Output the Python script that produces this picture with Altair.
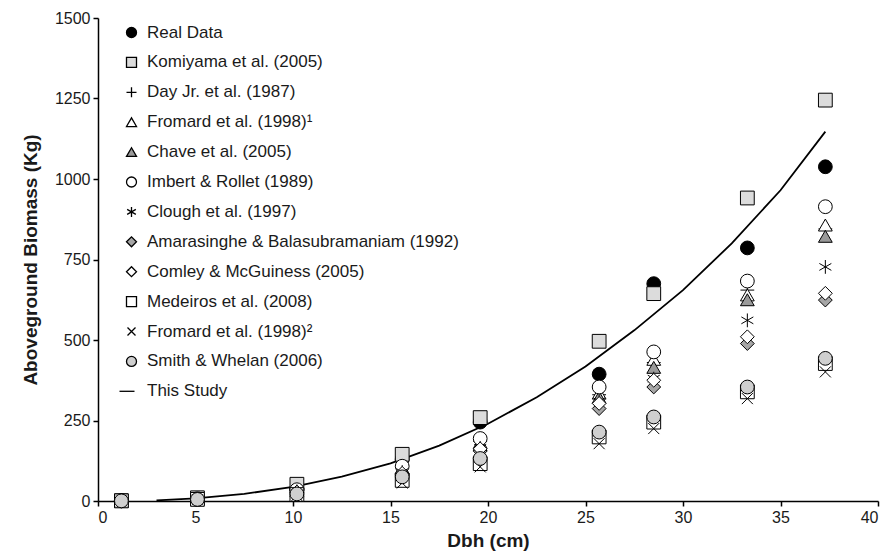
import altair as alt
import pandas as pd

# ---- data ----
dbh = [1.2, 5.1, 10.2, 15.6, 19.6, 25.7, 28.5, 33.3, 37.3]

series_names = [
    "Real Data",
    "Komiyama et al. (2005)",
    "Day Jr. et al. (1987)",
    "Fromard et al. (1998)¹",
    "Chave et al. (2005)",
    "Imbert & Rollet (1989)",
    "Clough et al. (1997)",
    "Amarasinghe & Balasubramaniam (1992)",
    "Comley & McGuiness (2005)",
    "Medeiros et al. (2008)",
    "Fromard et al. (1998)²",
    "Smith & Whelan (2006)",
]
line_name = "This Study"

real_data   = [0.5, 8, 38, 130, 245, 394, 675, 786, 1038]
komiyama    = [1, 10, 52, 145, 259, 496, 644, 941, 1245]
day_jr      = [0.5, 7, 34, 108, 185, 330, 430, 655, 845]
fromard1    = [0.5, 7, 33, 104, 182, 335, 440, 640, 857]
chave       = [0.5, 7, 31, 98, 175, 322, 415, 625, 822]
imbert      = [0.6, 7, 35, 108, 194, 354, 463, 683, 914]
clough      = [0.5, 6, 30, 90, 165, 310, 380, 561, 727]
amarasinghe = [0.5, 6, 27, 82, 155, 287, 354, 489, 624]
comley      = [0.5, 6, 28, 86, 162, 303, 375, 510, 645]
medeiros    = [0.4, 5, 20, 64, 116, 199, 245, 339, 427]
fromard2    = [0.3, 4, 17, 56, 106, 178, 225, 318, 401]
smith       = [0.4, 5, 22, 75, 132, 214, 261, 354, 443]

series_values = [real_data, komiyama, day_jr, fromard1, chave, imbert,
                 clough, amarasinghe, comley, medeiros, fromard2, smith]

curve_dbh     = [3, 5, 7.5, 10, 12.5, 15, 17.5, 20, 22.5, 25, 27.5, 30, 32.5, 35, 37.3]
curve_biomass = [2, 8, 22, 44, 76, 117, 172, 240, 322, 418, 530, 655, 800, 965, 1147]

x_ticks = [0, 5, 10, 15, 20, 25, 30, 35, 40]
y_ticks = [0, 250, 500, 750, 1000, 1250, 1500]

# ---- styling ----
PLUS = "M-1,0H1M0,-1V1"
STAR = "M0,-1V1M-0.87,-0.5L0.87,0.5M-0.87,0.5L0.87,-0.5"
XMARK = "M-0.8,-0.8L0.8,0.8M-0.8,0.8L0.8,-0.8"
DASH = "M-2.4,0H0.6"
shapes = ["circle", "square", PLUS, "triangle-up", "triangle-up", "circle",
          STAR, "diamond", "diamond", "square", XMARK, "circle", DASH]
fills = ["#000000", "#dcdcdc", "transparent", "#ffffff", "#9a9a9a", "#ffffff",
         "transparent", "#a6a6a6", "#ffffff", "#ffffff", "transparent", "#cfcfcf",
         "transparent"]
strokes = ["#000000"] * 13
domain = series_names + [line_name]

rows = []
for k, (name, vals) in enumerate(zip(series_names, series_values)):
    for d, v in zip(dbh, vals):
        rows.append({"series": name, "dbh": d, "biomass": v, "order": k})
pts = pd.DataFrame(rows)
curve = pd.DataFrame({"dbh": curve_dbh, "biomass": curve_biomass})

FONT = "Liberation Sans"

xenc = alt.X("dbh:Q", scale=alt.Scale(domain=[0, 40], nice=False),
             axis=alt.Axis(values=x_ticks, title="Dbh (cm)", grid=False, format="d"))
yenc = alt.Y("biomass:Q", scale=alt.Scale(domain=[0, 1500], nice=False),
             axis=alt.Axis(values=y_ticks, title="Aboveground Biomass (Kg)", grid=False,
                           format="d"))

line = alt.Chart(curve).mark_line(color="black", strokeWidth=1.8).encode(
    x=xenc, y=yenc)

legend = alt.Legend(title=None, orient="none", legendX=25, legendY=6,
                    labelFont=FONT, labelFontSize=17, labelColor="#1a1a1a",
                    symbolSize=100, symbolStrokeWidth=1.3,
                    labelOffset=7, rowPadding=11.9, labelLimit=400)

points = alt.Chart(pts).mark_point(filled=True, opacity=1, strokeWidth=1, size=190).encode(
    x=xenc, y=yenc,
    shape=alt.Shape("series:N", scale=alt.Scale(domain=domain, range=shapes), legend=legend),
    fill=alt.Fill("series:N", scale=alt.Scale(domain=domain, range=fills), legend=legend),
    stroke=alt.Stroke("series:N", scale=alt.Scale(domain=domain, range=strokes), legend=legend),
    order=alt.Order("order:Q"),
)

chart = alt.layer(line, points).properties(
    width=780, height=483,
    autosize=alt.AutoSizeParams(type="none"),
    padding={"left": 90, "top": 10, "right": 4, "bottom": 56},
).configure_view(stroke=None).configure_axis(
    domainColor="black", domainWidth=1.5, tickColor="black", tickWidth=1.5,
    tickSize=5, labelFont=FONT, labelFontSize=16, labelColor="#1a1a1a",
    titleFont=FONT, titleFontSize=19, titleFontWeight="bold", titleColor="#1a1a1a",
    labelPadding=3,
).configure_axisX(titlePadding=6).configure_axisY(titlePadding=14)

chart.save("out.html", embed_options={"renderer": "svg", "actions": False})
